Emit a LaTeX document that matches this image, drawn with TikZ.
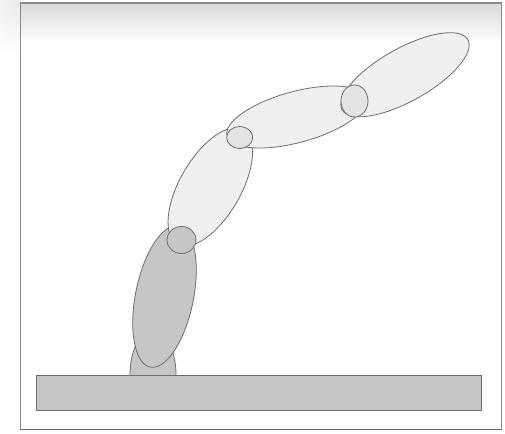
\documentclass[tikz,border=0pt]{standalone}
\usetikzlibrary{shapes.geometric}
\definecolor{linkfill}{HTML}{F0F0F0}
\definecolor{darkfill}{HTML}{C6C6C6}
\definecolor{jointfill}{HTML}{E4E4E4}
\definecolor{edge}{HTML}{6E6E6E}
\definecolor{framecol}{HTML}{8A8A8A}
\tikzset{
  link/.style={ellipse, draw=edge, line width=0.8pt, fill=linkfill, inner sep=0pt, outer sep=0pt},
  joint/.style={ellipse, draw=edge, line width=0.8pt, fill=jointfill, inner sep=0pt, outer sep=0pt},
  solid gray/.style={draw=edge, line width=0.8pt, fill=darkfill}
}
\begin{document}
\begin{tikzpicture}[x=1pt,y=1pt]
\useasboundingbox (0,0) rectangle (505,433);
% outer faint shadow at top-left
\begin{scope}
\clip (0,373) rectangle (20,433);
\shade[inner color=gray!16, outer color=white] (20,433) circle (55);
\end{scope}
\shade[top color=gray!30, bottom color=white] (20,390) rectangle (502,430);
\draw[framecol, line width=1.3pt] (20.5,3.5) rectangle (501.5,430);
\draw[black!60, line width=1.2pt] (20,3.5) -- (502,3.5);
% ground and base
\draw[solid gray] (130,58) arc[start angle=180, end angle=0, x radius=23, y radius=45];
\node[solid gray, draw, rectangle, minimum width=445pt, minimum height=35pt, inner sep=0pt] (ground) at (258.5,40.5) {};
% links
\node[link, fill=darkfill, minimum width=144pt, minimum height=58pt, rotate=78.6] (l1) at (164.5,136.5) {};
\node[link, minimum width=132pt, minimum height=61pt, rotate=60] (l2) at (210.3,246) {};
\node[link, minimum width=144pt, minimum height=51pt, rotate=15.2] (l3) at (296.5,316) {};
\node[link, minimum width=144pt, minimum height=53pt, rotate=29.2] (l4) at (405,358.25) {};
% joints
\node[joint, fill=darkfill, minimum width=29pt, minimum height=27pt] (j1) at (181.5,193) {};
\node[joint, minimum width=26pt, minimum height=22pt] (j2) at (239.7,295.5) {};
\node[joint, minimum width=27pt, minimum height=32pt] (j3) at (354.5,332) {};
\end{tikzpicture}
\end{document}
